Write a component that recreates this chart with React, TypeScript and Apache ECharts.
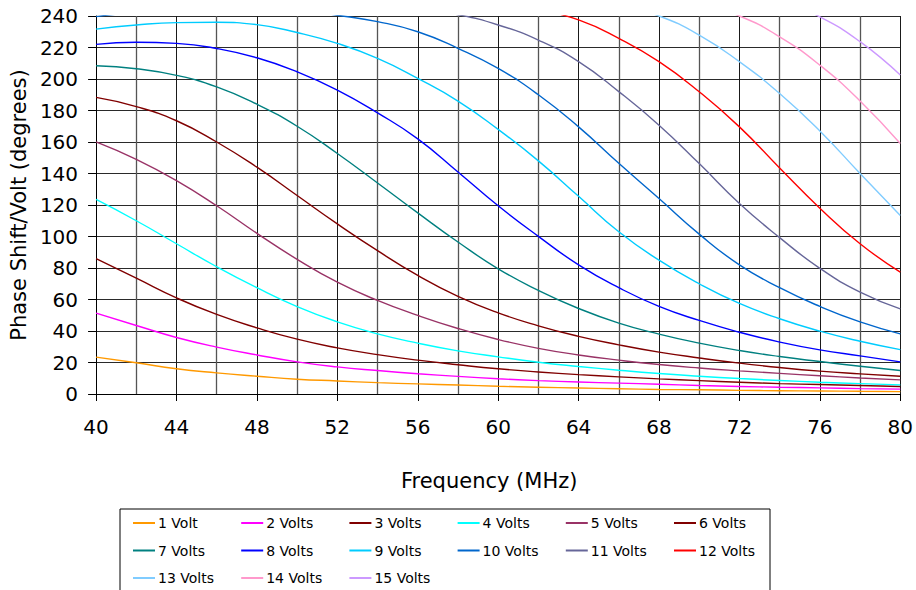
import React, { useEffect, useRef } from "react";
import * as echarts from "echarts";

const frequencies = [40, 42, 44, 46, 48, 50, 52, 54, 56, 58, 60, 62, 64, 66, 68, 70, 72, 74, 76, 78, 80];

const seriesNames = [
  "1 Volt", "2 Volts", "3 Volts", "4 Volts", "5 Volts", "6 Volts",
  "7 Volts", "8 Volts", "9 Volts", "10 Volts", "11 Volts", "12 Volts",
  "13 Volts", "14 Volts", "15 Volts",
];

const seriesColors = [
  "#FF9900", "#FF00FF", "#800000", "#00FFFF", "#993366", "#800000",
  "#008080", "#0000FF", "#00CCFF", "#0066CC", "#666699", "#FF0000",
  "#80CCFF", "#FF99CC", "#CC99FF",
];

const v1 = [23.4, 19.8, 16.0, 13.4, 11.3, 9.4, 8.3, 7.2, 6.4, 5.7, 4.9, 4.3, 3.8, 3.3, 2.9, 2.7, 2.3, 2.1, 1.9, 1.7, 1.5];
const v2 = [51.3, 43.5, 35.9, 29.8, 24.8, 20.4, 17.2, 14.9, 12.9, 11.2, 9.7, 8.5, 7.6, 6.9, 6.2, 5.4, 4.8, 4.3, 3.9, 3.4, 3.1];
const v3 = [85.9, 73.5, 61.0, 50.5, 42.0, 34.8, 29.3, 25.0, 21.5, 18.6, 16.0, 14.0, 12.3, 10.9, 9.6, 8.5, 7.5, 6.6, 6.0, 5.4, 4.8];
const v4 = [123.5, 110.0, 95.4, 80.8, 67.5, 55.5, 45.8, 38.2, 32.3, 27.4, 23.6, 20.2, 17.5, 15.1, 13.0, 11.3, 9.8, 8.6, 7.5, 6.6, 5.8];
const v5 = [160.1, 149.0, 135.5, 119.5, 102.0, 85.5, 71.0, 59.4, 49.9, 41.6, 34.6, 29.0, 24.8, 21.5, 18.7, 16.5, 14.7, 13.1, 11.6, 10.2, 9.0];
const v6 = [188.3, 182.5, 173.5, 160.0, 144.0, 126.0, 108.0, 91.0, 75.3, 62.0, 51.5, 43.3, 36.6, 31.2, 26.6, 22.9, 19.6, 16.8, 14.5, 12.8, 11.3];
const v7 = [208.4, 206.5, 202.3, 195.0, 184.0, 170.0, 152.7, 134.0, 115.0, 96.5, 79.5, 65.8, 54.3, 45.0, 38.0, 32.3, 27.6, 23.8, 20.6, 17.6, 14.9];
const v8 = [222.0, 223.3, 222.6, 219.4, 213.5, 204.6, 193.0, 178.5, 162.0, 141.0, 119.5, 100.1, 82.0, 67.5, 55.6, 46.7, 39.2, 33.0, 28.0, 24.2, 20.4];
const v9 = [231.7, 234.3, 235.8, 236.0, 234.5, 229.5, 222.6, 213.1, 200.4, 186.0, 168.0, 148.0, 125.5, 103.0, 85.0, 70.0, 57.5, 47.8, 39.9, 33.5, 28.2];
const v10 = [239.6, 242.5, 244.5, 245.5, 245.5, 244.0, 240.5, 236.4, 230.0, 219.5, 206.7, 190.0, 169.6, 146.5, 124.1, 101.5, 82.0, 67.5, 55.6, 45.8, 38.2];
const v11 = [null, null, null, null, null, null, 248.0, 246.5, 244.5, 240.8, 234.3, 224.7, 211.0, 192.0, 170.7, 146.3, 121.0, 99.3, 79.8, 64.7, 54.1];
const v12 = [null, null, null, null, null, null, null, null, null, null, null, 244.0, 237.5, 225.8, 211.0, 191.9, 169.6, 143.5, 118.0, 95.4, 77.4];
const v13 = [null, null, null, null, null, null, null, null, null, null, null, null, null, 247.0, 240.0, 227.9, 211.0, 190.8, 167.0, 140.0, 113.4];
const v14 = [null, null, null, null, null, null, null, null, null, null, null, null, null, null, null, 248.0, 240.0, 226.8, 208.8, 186.0, 159.0];
const v15 = [null, null, null, null, null, null, null, null, null, null, null, null, null, null, null, null, null, 250.0, 239.5, 223.7, 202.5];

const seriesValues = [v1, v2, v3, v4, v5, v6, v7, v8, v9, v10, v11, v12, v13, v14, v15];

const FONT = "DejaVu Sans, Verdana, sans-serif";

export default function App() {
  const ref = useRef<HTMLDivElement>(null);

  useEffect(() => {
    if (!ref.current) return;
    const chart = echarts.init(ref.current, null, { renderer: "svg" });

    const series = seriesNames.map((name, k) => ({
      name,
      type: "line",
      data: frequencies.map((f, i) => [f, seriesValues[k][i]]),
      smooth: 0.5,
      symbol: "none",
      showSymbol: false,
      clip: true,
      color: seriesColors[k],
      lineStyle: { width: 1.4, color: seriesColors[k] },
    }));

    const rowCenters = [524, 551.5, 579];
    const colLefts = [0, 1, 2, 3, 4, 5].map((c) => 133 + c * 108.2);
    const legends = seriesNames.map((name, i) => ({
      orient: "horizontal",
      left: colLefts[i % 6],
      top: rowCenters[Math.floor(i / 6)] - 8,
      padding: 0,
      itemWidth: 22,
      itemHeight: 2,
      itemGap: 0,
      icon: "rect",
      selectedMode: false,
      data: [name],
      textStyle: { fontFamily: FONT, fontSize: 14, color: "#000", padding: [0, 0, 0, -2] },
    }));

    chart.setOption({
      animation: false,
      backgroundColor: "#fff",
      grid: { left: 96, top: 16, width: 808, height: 378, containLabel: false },
      xAxis: {
        type: "value",
        min: 40,
        max: 80,
        interval: 4,
        name: "Frequency (MHz)",
        nameLocation: "middle",
        nameGap: 76,
        nameTextStyle: { fontFamily: FONT, fontSize: 21, color: "#000", padding: [0, 18, 0, 0] },
        axisLine: { show: true, lineStyle: { color: "#000", width: 1 } },
        axisTick: { show: true, length: 7, lineStyle: { color: "#000" } },
        axisLabel: { fontFamily: FONT, fontSize: 20, color: "#000", margin: 23 },
        splitLine: { show: true, lineStyle: { color: "#1a1a1a", width: 1 } },
        minorTick: { show: false, splitNumber: 2 },
        minorSplitLine: { show: true, lineStyle: { color: "#555", width: 1.3 } },
      },
      yAxis: {
        type: "value",
        min: 0,
        max: 240,
        interval: 20,
        name: "Phase Shift/Volt (degrees)",
        nameLocation: "middle",
        nameGap: 62,
        nameTextStyle: { fontFamily: FONT, fontSize: 21, color: "#000" },
        axisLine: { show: true, lineStyle: { color: "#000", width: 1 } },
        axisTick: { show: true, length: 8, lineStyle: { color: "#000" } },
        axisLabel: { fontFamily: FONT, fontSize: 20, color: "#000", margin: 18 },
        splitLine: { show: true, lineStyle: { color: "#2a2a2a", width: 1 } },
      },
      legend: legends,
      graphic: [
        {
          type: "rect",
          shape: { x: 120, y: 509, width: 650, height: 100 },
          style: { fill: "none", stroke: "#000", lineWidth: 1 },
          silent: true,
          z: -1,
        },
      ],
      series,
    });

    return () => chart.dispose();
  }, []);

  return (
    <div
      ref={ref}
      style={{ position: "fixed", left: 0, top: 0, width: 916, height: 590, background: "#fff" }}
    />
  );
}
